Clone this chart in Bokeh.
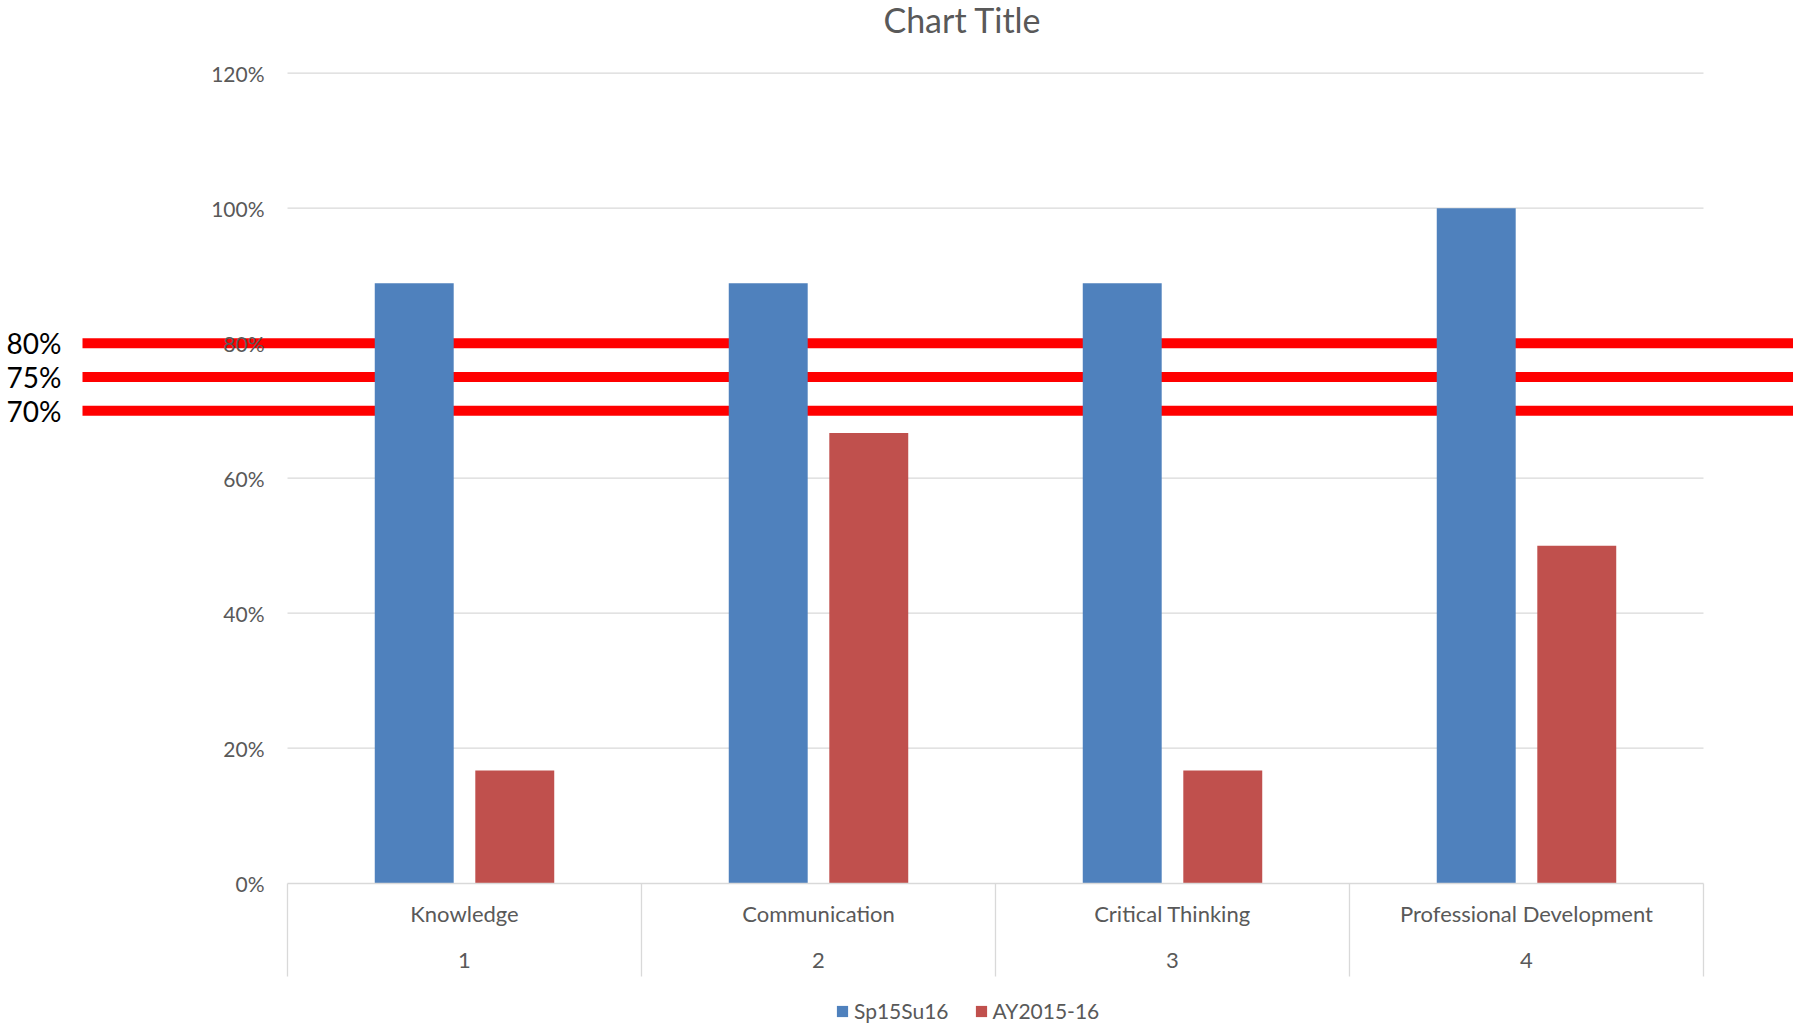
from bokeh.plotting import figure
from bokeh.models import (Range1d, LinearAxis, FixedTicker, NumeralTickFormatter,
                          Label, Legend, LegendItem)
from bokeh.embed import file_html
from bokeh.resources import INLINE

# ---- data -------------------------------------------------------------
categories = ["Knowledge", "Communication", "Critical Thinking", "Professional Development"]
category_numbers = ["1", "2", "3", "4"]
series_names = ["Sp15Su16", "AY2015-16"]
sp15su16 = [0.889, 0.889, 0.889, 1.0]
ay2015_16 = [0.167, 0.667, 0.167, 0.5]
thresholds = [0.80, 0.75, 0.70]
threshold_labels = ["80%", "75%", "70%"]
y_ticks = [0.0, 0.2, 0.4, 0.6, 0.8, 1.0, 1.2]

# ---- layout -----------------------------------------------------------
W, H = 1793, 1027
PLOT_L, PLOT_R = 287, 1703          # plot area edges in pixels
Y0_PX = 882.7                       # pixel row of the 0% baseline
PX_PER_Y = 675.0                    # pixels per 100%
n = len(categories)
px_per_x = (PLOT_R - PLOT_L) / n

FONT = "Lato"
GREY_TEXT = "#595959"
GRID = "#d9d9d9"
BLUE = "#4f81bd"
RED = "#c0504d"

x_range = Range1d(-PLOT_L / px_per_x, (W - PLOT_L) / px_per_x)
y_range = Range1d(-(H - Y0_PX) / PX_PER_Y, Y0_PX / PX_PER_Y)

p = figure(width=W, height=H, x_range=x_range, y_range=y_range,
           output_backend="svg", toolbar_location=None,
           x_axis_location=None, y_axis_location=None,
           min_border=0, outline_line_color=None)
p.grid.visible = False
p.background_fill_color = "white"

centers = [i + 0.5 for i in range(n)]
edges = [float(i) for i in range(n + 1)]

# horizontal gridlines across the plot area only
grid_levels = y_ticks[1:]
p.segment(x0=[0.0] * len(grid_levels), x1=[float(n)] * len(grid_levels),
          y0=grid_levels, y1=grid_levels,
          line_color=GRID, line_width=1.3, level="underlay")

# target lines
line_start = (82 - PLOT_L) / px_per_x
p.segment(x0=[line_start] * len(thresholds), x1=[x_range.end] * len(thresholds),
          y0=thresholds, y1=thresholds,
          line_color="#ff0000", line_width=10, level="underlay")

# clustered bars
offset = 0.142
bar_w = 0.223
r_blue = p.vbar(x=[c - offset for c in centers], top=sp15su16, bottom=0, width=bar_w,
                fill_color=BLUE, line_color=None)
r_red = p.vbar(x=[c + offset for c in centers], top=ay2015_16, bottom=0, width=bar_w,
               fill_color=RED, line_color=None)

# value axis drawn at the left edge of the plot area
yaxis = LinearAxis(fixed_location=0, bounds=(0, 1.2),
                   ticker=FixedTicker(ticks=y_ticks),
                   formatter=NumeralTickFormatter(format="0%"),
                   axis_line_color=None, major_tick_line_color=None,
                   minor_tick_line_color=None, major_tick_in=0, major_tick_out=0,
                   major_label_standoff=23,
                   major_label_text_font=FONT, major_label_text_font_size="21px",
                   major_label_text_color=GREY_TEXT)
p.add_layout(yaxis, "left")

# baseline and long separators between categories
sep_axis = LinearAxis(fixed_location=0, bounds=(0, n),
                      ticker=FixedTicker(ticks=[], minor_ticks=edges),
                      axis_line_color=GRID, axis_line_width=1.3,
                      major_tick_line_color=None, major_tick_in=0, major_tick_out=0,
                      minor_tick_in=0, minor_tick_out=93,
                      minor_tick_line_color=GRID, minor_tick_line_width=1.3,
                      major_label_text_alpha=0)
p.add_layout(sep_axis, "below")

# category names
xaxis = LinearAxis(fixed_location=0, bounds=(0, n),
                   ticker=FixedTicker(ticks=centers),
                   major_label_overrides={c: name for c, name in zip(centers, categories)},
                   axis_line_color=None, major_tick_line_color=None,
                   minor_tick_line_color=None, major_tick_in=0, major_tick_out=0,
                   major_label_standoff=17,
                   major_label_text_font=FONT, major_label_text_font_size="22px",
                   major_label_text_color=GREY_TEXT)
p.add_layout(xaxis, "below")

# second row of category labels (numbers)
xaxis2 = LinearAxis(fixed_location=0, bounds=(0, n),
                    ticker=FixedTicker(ticks=centers),
                    major_label_overrides={c: num for c, num in zip(centers, category_numbers)},
                    axis_line_color=None, major_tick_line_color=None,
                    minor_tick_line_color=None, major_tick_in=0, major_tick_out=0,
                    major_label_standoff=70,
                    major_label_text_font=FONT, major_label_text_font_size="22px",
                    major_label_text_color=GREY_TEXT)
p.add_layout(xaxis2, "below")

# threshold captions on the far left
for t, txt in zip(thresholds, threshold_labels):
    p.add_layout(Label(x=6, x_units="screen", y=t, y_units="data", text=txt,
                       text_baseline="middle", text_align="left",
                       text_font=FONT, text_font_size="28px", text_color="black"))

# chart title
p.add_layout(Label(x=962, y=H + 2, x_units="screen", y_units="screen",
                   text="Chart Title", text_align="center", text_baseline="top",
                   text_font=FONT, text_font_size="34px", text_color=GREY_TEXT))

legend = Legend(items=[LegendItem(label=series_names[0], renderers=[r_blue]),
                       LegendItem(label=series_names[1], renderers=[r_red])],
                orientation="horizontal", location=(835, 4),
                glyph_width=14, glyph_height=14, label_standoff=5, spacing=25,
                padding=0, margin=0, border_line_color=None,
                background_fill_alpha=0,
                label_text_font=FONT, label_text_font_size="21px",
                label_text_color=GREY_TEXT)
p.add_layout(legend)

open("out.html", "w").write(file_html(p, INLINE))
